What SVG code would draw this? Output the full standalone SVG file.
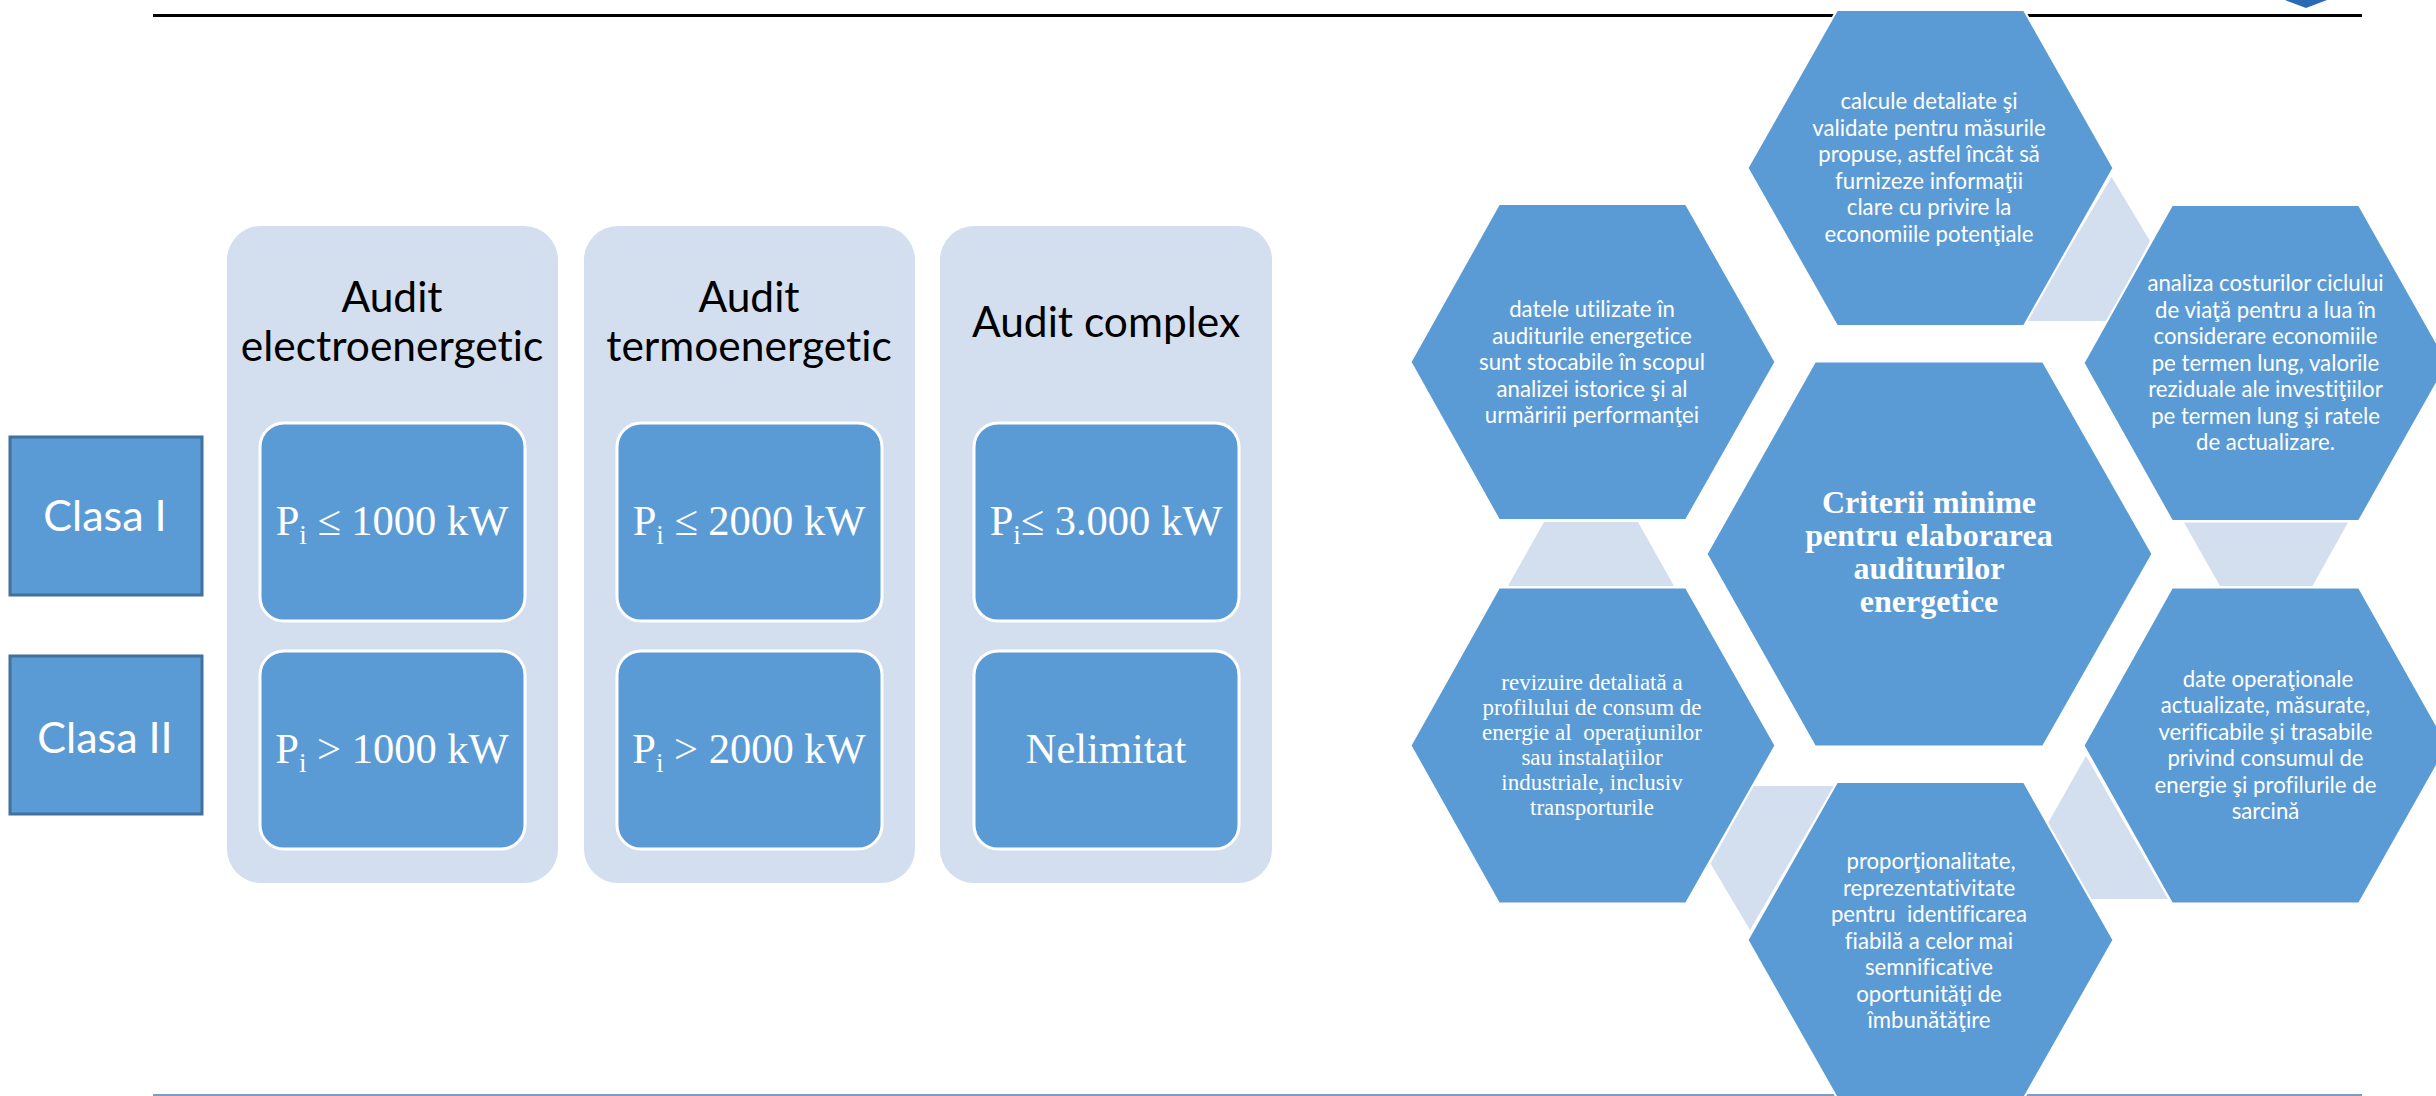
<svg xmlns="http://www.w3.org/2000/svg" width="2436" height="1096" viewBox="0 0 2436 1096">
<style>
.hex{fill:#5b9bd5;stroke:#fff;stroke-width:2}
.tri{fill:#d3deef}
.col{fill:#d3deef}
.cell{fill:#5b9bd5;stroke:#fff;stroke-width:3}
.cls{fill:#5b9bd5;stroke:#41719c;stroke-width:3}
text{text-anchor:middle;fill:#fff;white-space:pre}
.h{font:42.5px Lato,"Liberation Sans",sans-serif;fill:#000;font-variant-ligatures:none;transform:translateY(1px)}
.c{font:43px Lato,"Liberation Sans",sans-serif;font-variant-ligatures:none}
.v{font:42.5px "Liberation Serif",serif}
.s{font:22.2px Lato,"Liberation Sans",sans-serif;font-variant-ligatures:none;transform:translateY(1px)}
.t{font:23px "Liberation Serif",serif;font-variant-ligatures:none}
.b{font:bold 32px "Liberation Serif",serif}
.sub{font-size:27px}
</style>
<path d="M2285 0L2306 8L2327 0Z" fill="#2a6ab5"/>
<rect x="153" y="14" width="2209" height="3" fill="#000"/>
<rect x="153" y="1094" width="2209" height="2" fill="#7f9bc8"/>
<g id="connectors">
<polygon class="tri" points="2111.6,177 2150,241 2107,321 2026,321"/>
<polygon class="tri" points="2184,522.5 2348,522.5 2312.5,586 2220,586"/>
<polygon class="tri" points="2086,756 2168,899 2089,899 2047.5,824"/>
<polygon class="tri" points="1753.5,786 1834,786 1750,930 1710.5,863.4"/>
<polygon class="tri" points="1544,522 1638,522 1674,586 1508,586"/>
</g>
<g id="col1"><rect class="col" x="227" y="226" width="331" height="657" rx="34"/><text class="h" x="392" y="311">Audit</text><text class="h" x="392" y="360">electroenergetic</text></g>
<g id="col2"><rect class="col" x="584" y="226" width="331" height="657" rx="34"/><text class="h" x="749" y="311">Audit</text><text class="h" x="749" y="360">termoenergetic</text></g>
<g id="col3"><rect class="col" x="940" y="226" width="332" height="657" rx="34"/><text class="h" x="1106" y="336">Audit complex</text></g>
<g id="cell-e1"><rect class="cell" x="260" y="423" width="265" height="198" rx="24"/><text class="v" x="392" y="535">P<tspan class="sub" dy="9">i</tspan><tspan dy="-9"> ≤ 1000 kW</tspan></text></g>
<g id="cell-e2"><rect class="cell" x="260" y="651" width="265" height="198" rx="24"/><text class="v" x="392" y="763">P<tspan class="sub" dy="9">i</tspan><tspan dy="-9"> &gt; 1000 kW</tspan></text></g>
<g id="cell-t1"><rect class="cell" x="617" y="423" width="265" height="198" rx="24"/><text class="v" x="749" y="535">P<tspan class="sub" dy="9">i</tspan><tspan dy="-9"> ≤ 2000 kW</tspan></text></g>
<g id="cell-t2"><rect class="cell" x="617" y="651" width="265" height="198" rx="24"/><text class="v" x="749" y="763">P<tspan class="sub" dy="9">i</tspan><tspan dy="-9"> &gt; 2000 kW</tspan></text></g>
<g id="cell-c1"><rect class="cell" x="974" y="423" width="265" height="198" rx="24"/><text class="v" x="1106" y="535">P<tspan class="sub" dy="9">i</tspan><tspan dy="-9">≤ 3.000 kW</tspan></text></g>
<g id="cell-c2"><rect class="cell" x="974" y="651" width="265" height="198" rx="24"/><text class="v" x="1106" y="763">Nelimitat</text></g>
<g id="clasa1"><rect class="cls" x="10" y="437" width="192" height="158"/><text class="c" x="105" y="531">Clasa I</text></g>
<g id="clasa2"><rect class="cls" x="10" y="656" width="192" height="158"/><text class="c" x="105" y="753">Clasa II</text></g>
<g id="hex-top"><polygon class="hex" points="1837,10 2024,10 2113.500,168 2024,326 1837,326 1747.500,168"/>
<text class="s"><tspan x="1929" y="108">calcule detaliate şi</tspan><tspan x="1929" y="134.6">validate pentru măsurile</tspan><tspan x="1929" y="161.2">propuse, astfel încât să</tspan><tspan x="1929" y="187.8">furnizeze informaţii</tspan><tspan x="1929" y="214.4">clare cu privire la</tspan><tspan x="1929" y="241">economiile potenţiale</tspan></text></g>
<g id="hex-left"><polygon class="hex" points="1499,204 1686,204 1775.500,362 1686,520 1499,520 1410.500,362"/>
<text class="s"><tspan x="1592" y="316">datele utilizate în</tspan><tspan x="1592" y="342.6">auditurile energetice</tspan><tspan x="1592" y="369.2">sunt stocabile în scopul</tspan><tspan x="1592" y="395.8">analizei istorice şi al</tspan><tspan x="1592" y="422.4">urmăririi performanţei</tspan></text></g>
<g id="hex-right"><polygon class="hex" points="2172,205 2359,205 2448,363 2359,521 2172,521 2083.500,363"/>
<text class="s"><tspan x="2265.5" y="290">analiza costurilor ciclului</tspan><tspan x="2265.5" y="316.5">de viaţă pentru a lua în</tspan><tspan x="2265.5" y="343">considerare economiile</tspan><tspan x="2265.5" y="369.5">pe termen lung, valorile</tspan><tspan x="2265.5" y="396">reziduale ale investiţiilor</tspan><tspan x="2265.5" y="422.5">pe termen lung şi ratele</tspan><tspan x="2265.5" y="449">de actualizare.</tspan></text></g>
<g id="hex-center"><polygon class="hex" points="1815,361.500 2043,361.500 2152.500,554 2043,746.500 1815,746.500 1706.500,554"/>
<text class="b"><tspan x="1929" y="512.500">Criterii minime</tspan><tspan x="1929" y="545.500">pentru elaborarea</tspan><tspan x="1929" y="578.500">auditurilor</tspan><tspan x="1929" y="611.500">energetice</tspan></text></g>
<g id="hex-lower-left"><polygon class="hex" points="1499,587.500 1686,587.500 1775.500,745.500 1686,903.500 1499,903.500 1410.500,745.500"/>
<text class="t"><tspan x="1592" y="690">revizuire detaliată a</tspan><tspan x="1592" y="715">profilului de consum de</tspan><tspan x="1592" y="740">energie al  operaţiunilor</tspan><tspan x="1592" y="765">sau instalaţiilor</tspan><tspan x="1592" y="790">industriale, inclusiv</tspan><tspan x="1592" y="815">transporturile</tspan></text></g>
<g id="hex-lower-right"><polygon class="hex" points="2172,587.500 2359,587.500 2448,745.500 2359,903.500 2172,903.500 2083.500,745.500"/>
<text class="s"><tspan x="2268" y="686">date operaţionale</tspan><tspan x="2265.5" y="712.400">actualizate, măsurate,</tspan><tspan x="2265.5" y="738.800">verificabile şi trasabile</tspan><tspan x="2265.5" y="765.200">privind consumul de</tspan><tspan x="2265.5" y="791.600">energie şi profilurile de</tspan><tspan x="2265.5" y="818">sarcină</tspan></text></g>
<g id="hex-bottom"><polygon class="hex" points="1837,782 2024,782 2113.500,940 2024,1098 1837,1098 1747.500,940"/>
<text class="s"><tspan x="1931" y="868">proporţionalitate,</tspan><tspan x="1929" y="894.500">reprezentativitate</tspan><tspan x="1929" y="921">pentru  identificarea</tspan><tspan x="1929" y="947.500">fiabilă a celor mai</tspan><tspan x="1929" y="974">semnificative</tspan><tspan x="1929" y="1000.500">oportunităţi de</tspan><tspan x="1929" y="1027">îmbunătăţire</tspan></text></g>
</svg>
